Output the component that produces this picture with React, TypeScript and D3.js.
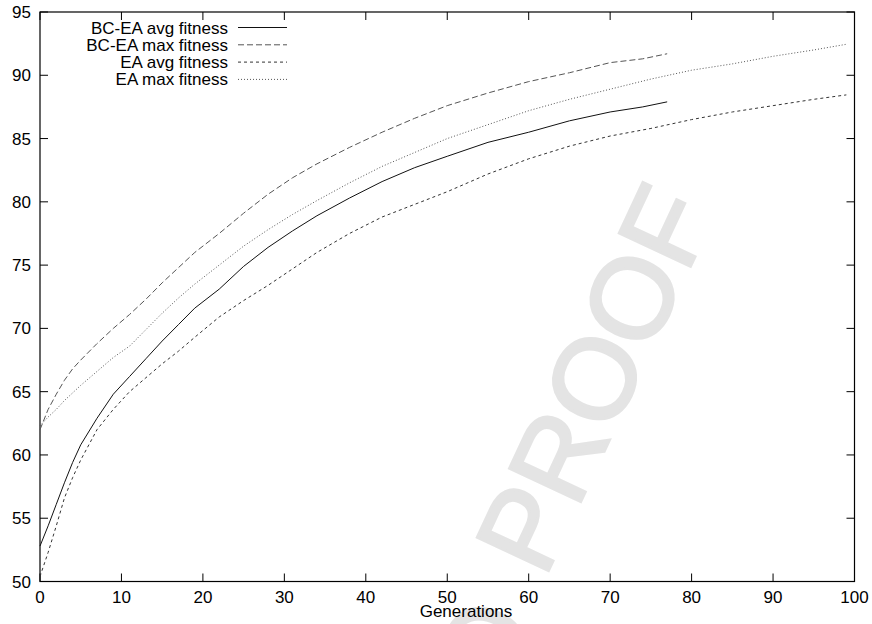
// App.tsx
import React, { useEffect, useRef } from 'react';
import * as d3 from 'd3';

// generations sampled for each run
const bcGenerations = [0, 1, 2, 3, 4, 5, 7, 9, 11, 13, 15, 17, 19, 22, 25, 28, 31, 34, 38, 42, 46, 50, 55, 60, 65, 70, 74, 77];
const eaGenerations = [0, 1, 2, 3, 4, 5, 7, 9, 11, 13, 15, 17, 19, 22, 25, 28, 31, 34, 38, 42, 46, 50, 55, 60, 65, 70, 75, 80, 85, 90, 95, 99];

const bcAvg = [52.8, 54.4, 56.1, 57.8, 59.4, 60.8, 62.9, 64.8, 66.2, 67.6, 69.0, 70.3, 71.6, 73.1, 74.9, 76.4, 77.7, 78.9, 80.3, 81.6, 82.7, 83.6, 84.7, 85.5, 86.4, 87.1, 87.5, 87.9];
const bcMax = [62.0, 63.6, 64.8, 65.9, 66.8, 67.5, 68.8, 70.0, 71.1, 72.3, 73.6, 74.8, 76.0, 77.5, 79.1, 80.6, 81.9, 83.0, 84.3, 85.5, 86.6, 87.6, 88.6, 89.5, 90.2, 91.0, 91.3, 91.7];
const eaAvg = [50.4, 52.3, 54.4, 56.6, 58.2, 59.6, 62.0, 63.6, 65.0, 66.1, 67.2, 68.2, 69.3, 70.9, 72.2, 73.4, 74.7, 76.0, 77.5, 78.8, 79.8, 80.8, 82.2, 83.4, 84.4, 85.2, 85.8, 86.5, 87.1, 87.6, 88.1, 88.45];
const eaMax = [62.3, 63.0, 63.6, 64.3, 64.9, 65.5, 66.6, 67.7, 68.6, 69.9, 71.2, 72.4, 73.5, 75.0, 76.5, 77.8, 79.0, 80.1, 81.5, 82.8, 83.9, 85.0, 86.1, 87.2, 88.1, 88.9, 89.7, 90.4, 90.9, 91.5, 92.0, 92.45];

const seriesNames = ['BC-EA avg fitness', 'BC-EA max fitness', 'EA avg fitness', 'EA max fitness'];
const xTicks = [0, 10, 20, 30, 40, 50, 60, 70, 80, 90, 100];
const yTicks = [50, 55, 60, 65, 70, 75, 80, 85, 90, 95];

const FONT = '"Liberation Sans", Arial, Helvetica, sans-serif';

export default function App() {
    const svgRef = useRef<SVGSVGElement>(null);

    useEffect(() => {
        const svg = d3.select(svgRef.current);
        svg.selectAll('*').remove();

        const left = 40, right = 854.5, top = 12, bottom = 581.5;
        const x = d3.scaleLinear().domain([0, 100]).range([left, right]);
        const y = d3.scaleLinear().domain([50, 95]).range([bottom, top]);

        svg.append('rect').attr('width', 872).attr('height', 624).attr('fill', '#fff');

        // watermark
        const wm = svg.append('g')
            .attr('fill', '#e4e4e4').attr('stroke', '#e4e4e4').attr('stroke-width', 3)
            .attr('font-family', FONT).attr('font-size', 114);
        wm.append('text')
            .attr('transform', 'translate(593,378) rotate(-65)')
            .attr('text-anchor', 'middle')
            .attr('y', 41)
            .text('PROOF');
        wm.append('text')
            .attr('transform', 'translate(482,648) rotate(-65)')
            .attr('text-anchor', 'middle')
            .attr('y', 41)
            .text('O');

        // ticks on all four sides, pointing inward
        const tickLen = 8;
        const ax = svg.append('g').attr('stroke', '#000').attr('stroke-width', 1);
        xTicks.forEach((t) => {
            ax.append('line').attr('x1', x(t)).attr('x2', x(t)).attr('y1', bottom).attr('y2', bottom - tickLen);
            ax.append('line').attr('x1', x(t)).attr('x2', x(t)).attr('y1', top).attr('y2', top + tickLen);
        });
        yTicks.forEach((t) => {
            ax.append('line').attr('x1', left).attr('x2', left + tickLen).attr('y1', y(t)).attr('y2', y(t));
            ax.append('line').attr('x1', right).attr('x2', right - tickLen).attr('y1', y(t)).attr('y2', y(t));
        });
        svg.append('rect')
            .attr('x', left).attr('y', top)
            .attr('width', right - left).attr('height', bottom - top)
            .attr('fill', 'none').attr('stroke', '#000').attr('stroke-width', 1.2);

        const labels = svg.append('g').attr('font-family', FONT).attr('font-size', 17).attr('fill', '#000');
        xTicks.forEach((t) => {
            labels.append('text').attr('x', x(t)).attr('y', 603).attr('text-anchor', 'middle').text(t);
        });
        yTicks.forEach((t) => {
            labels.append('text').attr('x', 31).attr('y', y(t) + 6).attr('text-anchor', 'end').text(t);
        });
        labels.append('text').attr('x', 466).attr('y', 617).attr('text-anchor', 'middle').text('Generations');

        // series
        const styles = [
            { dash: null, color: '#111' },
            { dash: '6,3', color: '#555' },
            { dash: '3,3', color: '#333' },
            { dash: '1,2', color: '#555' },
        ];
        const series = [
            bcGenerations.map((g, i) => [g, bcAvg[i]]),
            bcGenerations.map((g, i) => [g, bcMax[i]]),
            eaGenerations.map((g, i) => [g, eaAvg[i]]),
            eaGenerations.map((g, i) => [g, eaMax[i]]),
        ];
        const line = d3.line<number[]>().x((d) => x(d[0])).y((d) => y(d[1]));
        series.forEach((s, i) => {
            svg.append('path')
                .attr('d', line(s))
                .attr('fill', 'none')
                .attr('stroke', styles[i].color)
                .attr('stroke-width', 1)
                .attr('stroke-dasharray', styles[i].dash);
        });

        // legend
        seriesNames.forEach((name, i) => {
            const ly = 27.5 + i * 17.3;
            labels.append('text').attr('x', 228).attr('y', ly + 6).attr('text-anchor', 'end').text(name);
            svg.append('line')
                .attr('x1', 238).attr('x2', 287).attr('y1', ly).attr('y2', ly)
                .attr('stroke', styles[i].color).attr('stroke-width', 1)
                .attr('stroke-dasharray', styles[i].dash);
        });
    }, []);

    return (
        <svg ref={svgRef} width={872} height={624}
            style={{ position: 'absolute', left: 0, top: 0 }}></svg>
    );
}
